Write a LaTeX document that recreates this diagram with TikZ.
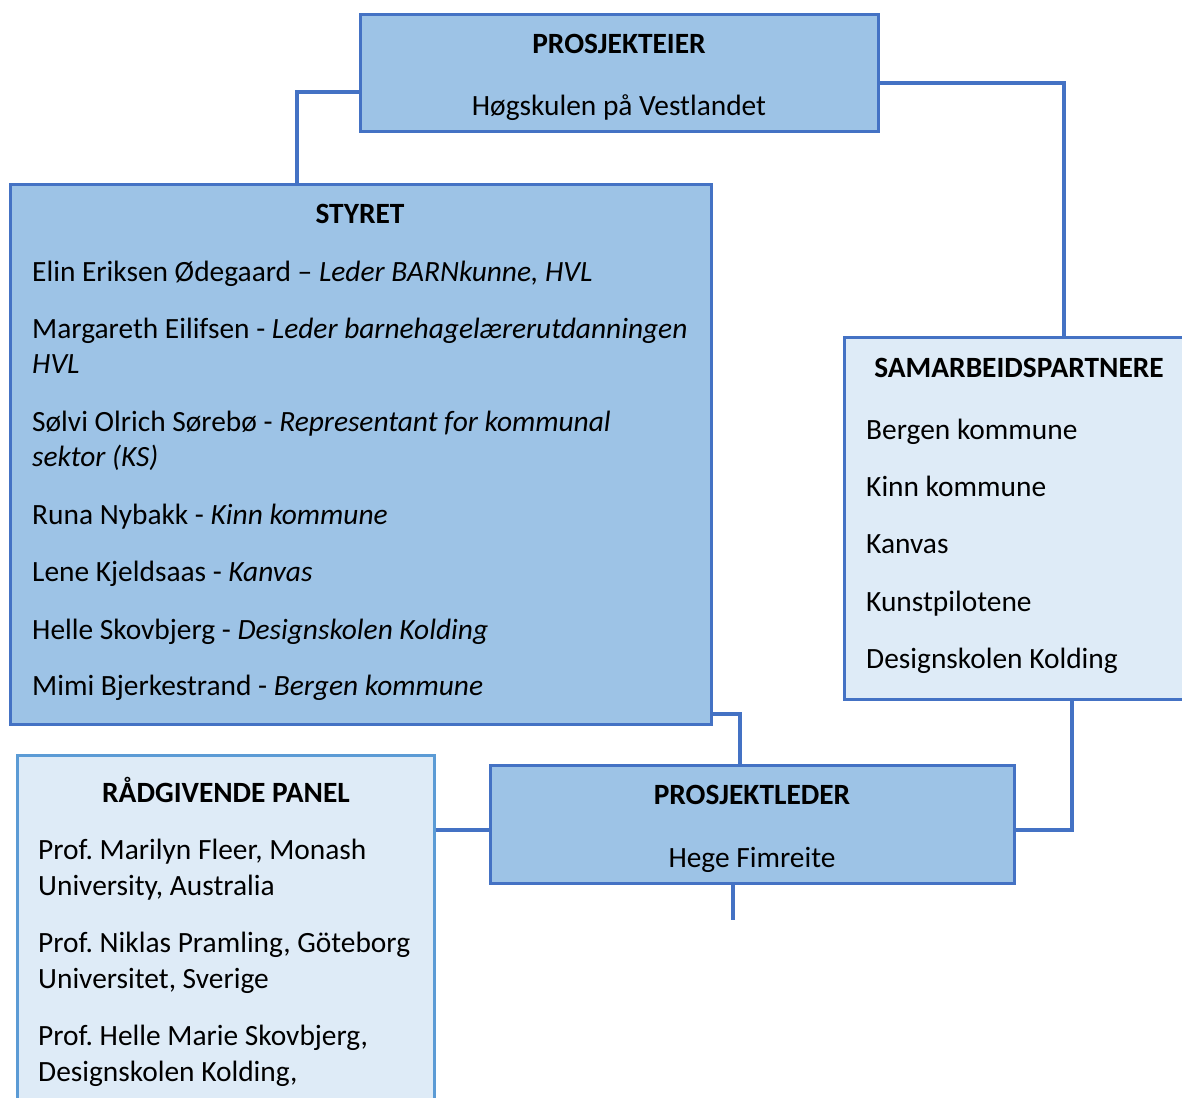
\documentclass[tikz,border=0pt]{standalone}
\usepackage{fontspec}
\setmainfont{Carlito}
\frenchspacing
\definecolor{darkfill}{HTML}{9DC3E6}
\definecolor{lightfill}{HTML}{DEEBF7}
\definecolor{edge}{HTML}{4472C4}
\definecolor{lightedge}{HTML}{5B9BD5}
\begin{document}
\begin{tikzpicture}[x=1pt,y=-1pt,
  box/.style={draw=edge,line width=3pt,rectangle,inner sep=0pt},
  dbox/.style={box,fill=darkfill},
  lbox/.style={box,fill=lightfill},
  conn/.style={draw=edge,line width=3.5pt},
  txt/.style={anchor=base west,inner sep=0pt,font=\fontsize{29.4}{35}\selectfont},
  head/.style={anchor=base,inner sep=0pt,font=\fontsize{29.4}{35}\selectfont\bfseries},
  ctxt/.style={anchor=base,inner sep=0pt,font=\fontsize{29.4}{35}\selectfont}]
\useasboundingbox (0,0) rectangle (1182,1097);
\fill[white] (0,0) rectangle (1182,1097);
% boxes
\node[dbox,minimum width=518pt,minimum height=116pt] (eier) at (619,73) {};
\node[dbox,minimum width=701pt,minimum height=540pt] (styret) at (360.5,454) {};
\node[lbox,minimum width=346pt,minimum height=362pt] (samarb) at (1017,518) {};
\node[lbox,draw=lightedge,minimum width=417pt,minimum height=355pt] (panel) at (225.5,932.5) {};
\node[dbox,minimum width=524pt,minimum height=118pt] (leder) at (752,824) {};
\coordinate (lederend) at (733,920);
% connectors
\draw[conn] (eier.west |- 0,92) -| (styret.north -| 297,0);
\draw[conn] (eier.east |- 0,83) -| (samarb.north -| 1064,0);
\draw[conn] (styret.east |- 0,714) -| (leder.north -| 740,0);
\draw[conn] (samarb.south -| 1072,0) |- (leder.east |- 0,830);
\draw[conn] (panel.east |- 0,830) -- (leder.west |- 0,830);
\draw[conn] (leder.south -| lederend) -- (lederend);
% texts
\node[head] (t1) at (619,54) {PROSJEKTEIER};
\node[ctxt] (t2) at (619,116) {Høgskulen på Vestlandet};
\node[head] (s0) at (360,223) {STYRET};
\node[txt] (s1) at (32,281) {Elin Eriksen Ødegaard – \textit{Leder BARNkunne, HVL}};
\node[txt] (s2) at (32,338) {Margareth Eilifsen - \textit{Leder barnehagelærerutdanningen}};
\node[txt] (s3) at (32,373) {\textit{HVL}};
\node[txt] (s4) at (32,431) {Sølvi Olrich Sørebø - \textit{Representant for kommunal}};
\node[txt] (s5) at (32,466) {\textit{sektor (KS)}};
\node[txt] (s6) at (32,524) {Runa Nybakk - \textit{Kinn kommune}};
\node[txt] (s7) at (32,581) {Lene Kjeldsaas - \textit{Kanvas}};
\node[txt] (s8) at (32,639) {Helle Skovbjerg - \textit{Designskolen Kolding}};
\node[txt] (s9) at (32,695) {Mimi Bjerkestrand - \textit{Bergen kommune}};
\node[head] (p0) at (1019,377) {SAMARBEIDSPARTNERE};
\node[txt] (p1) at (866,439) {Bergen kommune};
\node[txt] (p2) at (866,496) {Kinn kommune};
\node[txt] (p3) at (866,553) {Kanvas};
\node[txt] (p4) at (866,611) {Kunstpilotene};
\node[txt] (p5) at (866,668) {Designskolen Kolding};
\node[head] (r0) at (226,802) {RÅDGIVENDE PANEL};
\node[txt] (r1) at (38,859) {Prof. Marilyn Fleer, Monash};
\node[txt] (r2) at (38,895) {University, Australia};
\node[txt] (r3) at (38,952) {Prof. Niklas Pramling, Göteborg};
\node[txt] (r4) at (38,988) {Universitet, Sverige};
\node[txt] (r5) at (38,1045) {Prof. Helle Marie Skovbjerg,};
\node[txt] (r6) at (38,1081) {Designskolen Kolding,};
\node[head] (l0) at (752,804) {PROSJEKTLEDER};
\node[ctxt] (l1) at (752,867) {Hege Fimreite};
\end{tikzpicture}
\end{document}
